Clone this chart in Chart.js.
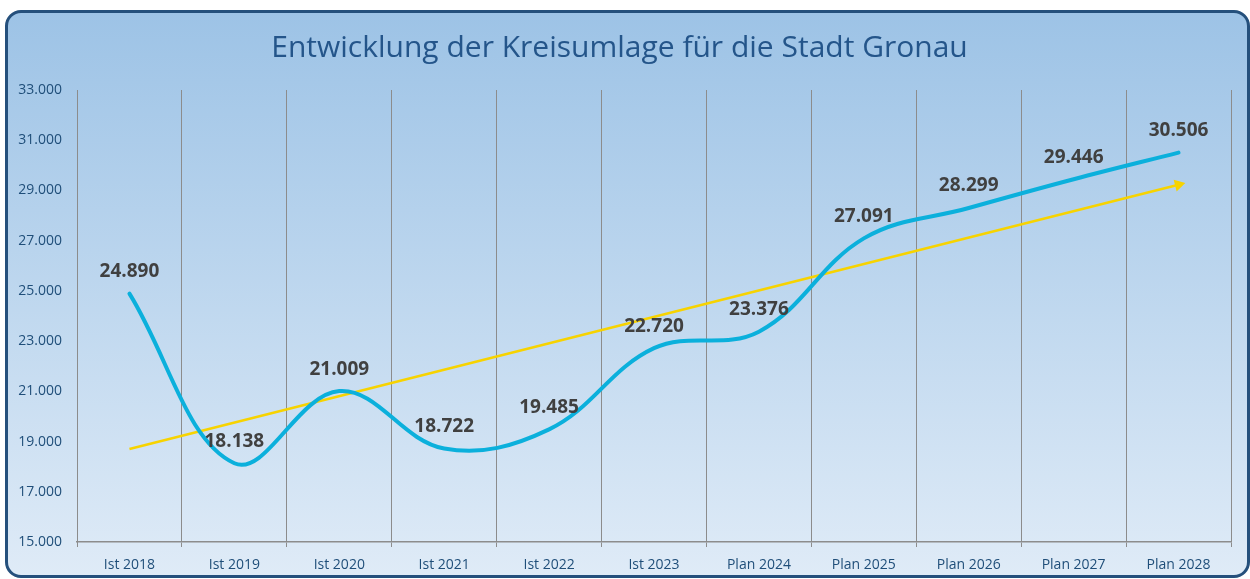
<!DOCTYPE html>
<html>
<head>
<meta charset="utf-8">
<script src="https://cdn.jsdelivr.net/npm/chart.js@4"></script>
<style>
  body { margin: 0; background: #ffffff; }
  .card {
    position: absolute;
    left: 5px;
    top: 10px;
    width: 1245px;
    height: 568px;
    box-sizing: border-box;
    border: 3px solid #25507c;
    border-radius: 16px;
    background: linear-gradient(to bottom, #9dc3e6, #dfebf7);
    overflow: hidden;
  }
  .wrap { position: relative; width: 1239px; height: 562px; }
</style>
</head>
<body>
<div class="card">
  <div class="wrap"><canvas id="kreisumlageChart"></canvas></div>
</div>
<script>
// Werte aus dem Diagramm
const years = ['Ist 2018', 'Ist 2019', 'Ist 2020', 'Ist 2021', 'Ist 2022', 'Ist 2023',
               'Plan 2024', 'Plan 2025', 'Plan 2026', 'Plan 2027', 'Plan 2028'];
const kreisumlage = [24890, 18138, 21009, 18722, 19485, 22720, 23376, 27091, 28299, 29446, 30506];
const trend = [18705, null, null, null, null, null, null, null, null, null, 29230];
const yMin = 15000;
const yMax = 33000;
const yStep = 2000;

function formatNumber(value) {
  const thousands = Math.floor(value / 1000);
  const rest = String(Math.round(value % 1000)).padStart(3, '0');
  return thousands + '.' + rest;
}

const valueLabels = {
  id: 'valueLabels',
  afterDatasetsDraw(chart) {
    const ctx = chart.ctx;
    const meta = chart.getDatasetMeta(0);
    ctx.save();
    ctx.font = 'bold 19px "Open Sans"';
    ctx.fillStyle = '#404040';
    ctx.textAlign = 'center';
    ctx.textBaseline = 'middle';
    meta.data.forEach((point, i) => {
      ctx.fillText(formatNumber(kreisumlage[i]), point.x, point.y - 22);
    });
    ctx.restore();
  }
};

const ctx = document.getElementById('kreisumlageChart').getContext('2d');
new Chart(ctx, {
  type: 'line',
  data: {
    labels: years,
    datasets: [
      {
        label: 'Kreisumlage',
        data: kreisumlage,
        borderColor: '#0bb0dc',
        borderWidth: 4,
        tension: 0.38,
        pointRadius: 0,
        borderCapStyle: 'round',
        order: 1
      },
      {
        label: 'Trend',
        data: trend,
        spanGaps: true,
        borderColor: '#f7d300',
        backgroundColor: '#f7d300',
        borderWidth: 2.5,
        tension: 0,
        pointStyle: 'triangle',
        pointRadius: trend.map((v, i) => i === trend.length - 1 ? 7 : 0),
        pointRotation: 76,
        pointBorderWidth: 0,
        order: 2
      }
    ]
  },
  options: {
    responsive: true,
    maintainAspectRatio: false,
    animation: false,
    layout: { padding: { left: 0, right: 16, top: 0, bottom: 0 } },
    plugins: {
      legend: { display: false },
      tooltip: { enabled: false },
      title: {
        display: true,
        text: 'Entwicklung der Kreisumlage für die Stadt Gronau',
        color: '#24558a',
        font: { family: '"Open Sans"', size: 30, weight: 'normal' },
        padding: { top: 17, bottom: 24 }
      }
    },
    scales: {
      x: {
        offset: true,
        grid: {
          display: true,
          offset: true,
          color: '#8c8c8c',
          lineWidth: 1,
          drawTicks: true,
          tickLength: 5
        },
        border: { display: true, color: '#8c8c8c', width: 1.5 },
        ticks: {
          color: '#1f4e79',
          font: { family: '"Open Sans"', size: 14 },
          padding: 10,
          maxRotation: 0,
          autoSkip: false
        },
        afterFit(scale) { scale.height = 33; }
      },
      y: {
        min: yMin,
        max: yMax,
        grid: { display: false, drawTicks: false },
        border: { display: true, color: '#8c8c8c', width: 1 },
        ticks: {
          stepSize: yStep,
          color: '#1f4e79',
          font: { family: '"Open Sans"', size: 14 },
          padding: 15,
          callback: function(value) { return formatNumber(value); }
        },
        afterFit(scale) { scale.width = 69; }
      }
    }
  },
  plugins: [valueLabels]
});
</script>
</body>
</html>
